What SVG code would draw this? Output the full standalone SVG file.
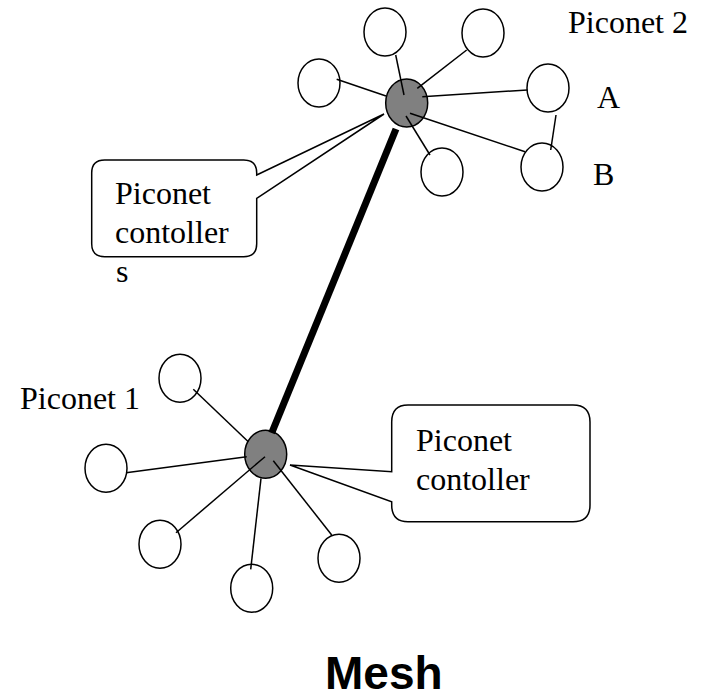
<svg xmlns="http://www.w3.org/2000/svg" width="702" height="698" viewBox="0 0 702 698">
<style>
.n{fill:#fff;stroke:#000;stroke-width:1.5}
.h{fill:#808080;stroke:#000;stroke-width:1.5}
.c{fill:#fff;stroke:#000;stroke-width:1.5;stroke-linejoin:miter}
.l{stroke:#000;stroke-width:1.5;fill:none}
.t{font-size:32px;fill:#000}
</style>
<rect width="702" height="698" fill="#fff"/>
<g font-family="Liberation Serif, 'Times New Roman', 'DejaVu Serif', serif">
<g id="callout-top">
<path class="c" d="M104.7,160 H243.7 Q256.7,160 256.7,173 V175 L384,114 L256.7,198.3 V243.7 Q256.7,256.7 243.7,256.7 H104.7 Q91.7,256.7 91.7,243.7 V173 Q91.7,160 104.7,160 Z"/>
<text class="t" x="115" y="204">Piconet</text>
<text class="t" x="115" y="243">contoller</text>
<text class="t" x="116" y="282">s</text>
</g>
<g id="callout-bottom">
<path class="c" d="M408,405 H573 Q590,405 590,422 V505 Q590,521.7 573,521.7 H408 Q391.7,521.7 391.7,505 V501.7 L290,465 L391.7,471.7 V422 Q391.7,405 408,405 Z"/>
<text class="t" x="416" y="451">Piconet</text>
<text class="t" x="416" y="490">contoller</text>
</g>
<g id="piconet2">
<ellipse id="hub2" class="h" cx="406.7" cy="103" rx="21" ry="24"/>
<ellipse id="p2-tl" class="n" cx="385" cy="32" rx="21" ry="24"/>
<ellipse id="p2-tr" class="n" cx="483" cy="33" rx="21" ry="24"/>
<ellipse id="p2-l" class="n" cx="319" cy="83" rx="21" ry="24"/>
<ellipse id="p2-A" class="n" cx="548" cy="88" rx="21" ry="24"/>
<ellipse id="p2-b" class="n" cx="442" cy="172" rx="21" ry="24"/>
<ellipse id="p2-B" class="n" cx="542" cy="167" rx="21" ry="24"/>
</g>
<g id="piconet1">
<ellipse id="hub1" class="h" cx="265.7" cy="454.3" rx="21" ry="24"/>
<ellipse id="p1-t" class="n" cx="180" cy="378.3" rx="21" ry="24"/>
<ellipse id="p1-l" class="n" cx="106" cy="468.3" rx="21" ry="24"/>
<ellipse id="p1-ll" class="n" cx="160" cy="544.3" rx="21" ry="24"/>
<ellipse id="p1-b" class="n" cx="251.7" cy="588.3" rx="21" ry="24"/>
<ellipse id="p1-lr" class="n" cx="339" cy="558.3" rx="21" ry="24"/>
</g>
<g id="connectors">
<line class="l" x1="395.7" y1="55" x2="404" y2="95"/>
<line class="l" x1="466.7" y1="50" x2="417.3" y2="88.3"/>
<line class="l" x1="336.7" y1="79.3" x2="386" y2="96"/>
<line class="l" x1="527.3" y1="90" x2="422.3" y2="96.7"/>
<line class="l" x1="406" y1="116" x2="430" y2="155"/>
<line class="l" x1="410" y1="113.3" x2="525" y2="151.7"/>
<line class="l" x1="556" y1="115" x2="550.7" y2="150"/>
<line class="l" x1="193.3" y1="389.3" x2="248.3" y2="441.7"/>
<line class="l" x1="126" y1="472.7" x2="246.7" y2="456.7"/>
<line class="l" x1="176" y1="532.7" x2="265" y2="456.7"/>
<line class="l" x1="250.7" y1="569.3" x2="261" y2="478.3"/>
<line class="l" x1="331.7" y1="535" x2="273.3" y2="460.7"/>
<line stroke="#000" stroke-width="7" x1="396" y1="129" x2="271.7" y2="433"/>
</g>
<g id="labels">
<text class="t" x="568" y="33">Piconet 2</text>
<text class="t" x="597" y="108">A</text>
<text class="t" x="593" y="185">B</text>
<text class="t" x="20" y="409">Piconet 1</text>
</g>
</g>
<text id="title" x="325" y="689" font-family="Liberation Sans, Arial, sans-serif" font-size="46" font-weight="bold" fill="#000">Mesh</text>
</svg>
